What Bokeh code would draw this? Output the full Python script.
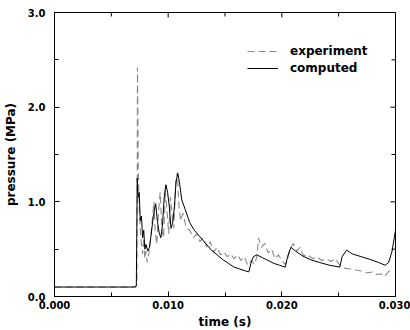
import math
from bokeh.plotting import figure
from bokeh.models import FixedTicker, Range1d, Legend, LegendItem, CustomJSTickFormatter
from bokeh.embed import file_html
from bokeh.resources import INLINE

# time in milliseconds, pressure in MPa
exp_t_ms = [0, 7.15, 7.25, 7.3, 7.38, 7.45, 7.55, 7.65, 7.75, 7.85, 7.95, 8.05, 8.15, 8.3, 8.45,
            8.6, 8.75, 8.85, 9.0, 9.15, 9.3, 9.45, 9.6, 9.75, 9.9, 10.05, 10.2, 10.35, 10.5, 10.65,
            10.8, 10.95, 11.1, 11.3, 11.6, 11.9, 12.2, 12.5, 12.8, 13.1, 13.4, 13.7, 14.0, 14.3,
            14.6, 14.9, 15.2, 15.5, 15.8, 16.1, 16.4, 16.7, 17.0, 17.3, 17.6, 17.8, 17.95, 18.2,
            18.5, 18.8, 19.1, 19.4, 19.7, 20.0, 20.3, 20.5, 20.7, 21.0, 21.3, 21.6, 21.9, 22.3,
            22.7, 23.1, 23.5, 23.9, 24.3, 24.7, 25.1, 25.5, 26.0, 26.5, 27.0, 27.5, 28.0, 28.4,
            28.7, 29.0, 29.3, 29.5]
exp_p = [0.10, 0.10, 0.12, 2.42, 1.30, 0.95, 0.70, 0.55, 0.45, 0.62, 0.40, 0.48, 0.36, 0.45, 0.60,
         0.80, 1.00, 0.70, 0.55, 0.90, 1.10, 0.70, 0.62, 1.12, 0.90, 0.66, 1.05, 0.85, 0.72, 1.18,
         1.31, 0.95, 0.80, 0.88, 0.72, 0.70, 0.62, 0.66, 0.58, 0.62, 0.52, 0.58, 0.47, 0.52,
         0.44, 0.47, 0.42, 0.45, 0.40, 0.44, 0.38, 0.42, 0.33, 0.38, 0.34, 0.42, 0.62, 0.52,
         0.56, 0.46, 0.50, 0.40, 0.44, 0.38, 0.34, 0.38, 0.50, 0.56, 0.48, 0.52, 0.43, 0.44,
         0.40, 0.42, 0.38, 0.40, 0.37, 0.40, 0.33, 0.30, 0.29, 0.28, 0.27, 0.25, 0.26, 0.23,
         0.24, 0.21, 0.25, 0.28]

comp_t_ms = [0, 7.1, 7.2, 7.28, 7.35, 7.45, 7.55, 7.65, 7.75, 7.85, 7.95, 8.05, 8.2, 8.35, 8.5,
             8.7, 8.9, 9.05, 9.2, 9.35, 9.5, 9.65, 9.8, 9.95, 10.1, 10.25, 10.4, 10.55, 10.7,
             10.85, 11.0, 11.2, 11.5, 11.9, 12.3, 12.8, 13.3, 13.8, 14.3, 14.8, 15.3, 15.8, 16.3,
             16.8, 17.1, 17.3, 17.5, 17.8, 18.3, 18.8, 19.3, 19.8, 20.3, 20.5, 20.8, 21.2, 21.8,
             22.5, 23.3, 24.2, 25.1, 25.3, 25.7, 26.2, 27.0, 27.8, 28.5, 29.1, 29.4, 29.7, 30.0]
comp_p = [0.10, 0.10, 0.12, 1.25, 1.05, 1.10, 0.80, 0.85, 0.62, 0.70, 0.50, 0.55, 0.48, 0.52, 0.65,
          0.85, 0.98, 0.80, 0.68, 0.62, 0.75, 1.05, 1.18, 1.10, 0.95, 0.72, 0.78, 0.95, 1.22,
          1.30, 1.20, 1.02, 0.92, 0.78, 0.70, 0.63, 0.56, 0.49, 0.44, 0.39, 0.35, 0.31, 0.29,
          0.27, 0.26, 0.36, 0.42, 0.44, 0.41, 0.38, 0.35, 0.33, 0.31, 0.42, 0.52, 0.48, 0.43,
          0.39, 0.36, 0.33, 0.31, 0.42, 0.49, 0.45, 0.42, 0.39, 0.36, 0.33, 0.36, 0.48, 0.70]

x_ticks = [0.0, 0.01, 0.02, 0.03]
x_minor = [0.005, 0.015, 0.025]
y_ticks = [0.0, 1.0, 2.0, 3.0]
y_minor = [0.5, 1.5, 2.5]
series_labels = ["experiment", "computed"]

exp_t = [v / 1000.0 for v in exp_t_ms]
comp_t = [v / 1000.0 for v in comp_t_ms]

FONT = "DejaVu Sans"
X_MAX = x_ticks[-1]
Y_MAX = y_ticks[-1]

p = figure(frame_width=341, frame_height=284, output_backend="svg", toolbar_location=None,
           x_range=Range1d(x_ticks[0], X_MAX), y_range=Range1d(y_ticks[0], Y_MAX),
           min_border_left=54, min_border_right=15, min_border_top=12, min_border_bottom=34,
           x_axis_label="time (s)", y_axis_label="pressure (MPa)")
p.background_fill_color = "white"
p.border_fill_color = "white"
p.grid.visible = False
p.outline_line_color = "black"
p.outline_line_width = 1

xfmt = CustomJSTickFormatter(code="return tick.toFixed(3);")
yfmt = CustomJSTickFormatter(code="return tick.toFixed(1);")

def style_axis(ax, ticks, minor):
    ax.ticker = FixedTicker(ticks=ticks, minor_ticks=minor)
    ax.major_tick_in = 5
    ax.major_tick_out = 0
    ax.minor_tick_in = 4
    ax.minor_tick_out = 0
    ax.axis_line_color = "black"
    ax.major_tick_line_color = "black"
    ax.minor_tick_line_color = "black"
    ax.major_label_text_font = FONT
    ax.major_label_text_font_style = "bold"
    ax.major_label_text_font_size = "10px"
    ax.major_label_text_color = "black"
    ax.axis_label_text_font = FONT
    ax.axis_label_text_font_style = "bold"
    ax.axis_label_text_font_size = "12px"
    ax.axis_label_text_color = "black"

xa = p.xaxis[0]
ya = p.yaxis[0]
style_axis(xa, x_ticks, x_minor)
style_axis(ya, y_ticks, y_minor)
xa.formatter = xfmt
ya.formatter = yfmt
xa.major_label_standoff = 4
xa.axis_label_standoff = 3
ya.major_label_standoff = 9
ya.axis_label_standoff = 7

# mirrored inward ticks on the top and right frame edges
p.ray(x=x_ticks, y=[Y_MAX] * len(x_ticks), length=5, length_units="screen",
      angle=-math.pi / 2, line_color="black", line_width=1)
p.ray(x=x_minor, y=[Y_MAX] * len(x_minor), length=4, length_units="screen",
      angle=-math.pi / 2, line_color="black", line_width=1)
p.ray(x=[X_MAX] * len(y_ticks), y=y_ticks, length=5, length_units="screen",
      angle=math.pi, line_color="black", line_width=1)
p.ray(x=[X_MAX] * len(y_minor), y=y_minor, length=4, length_units="screen",
      angle=math.pi, line_color="black", line_width=1)

r_exp = p.line(exp_t, exp_p, line_color="#8a8a8a", line_width=1.1, line_dash="7 4")
r_comp = p.line(comp_t, comp_p, line_color="black", line_width=1.0)

legend = Legend(items=[LegendItem(label=series_labels[0], renderers=[r_exp]),
                       LegendItem(label=series_labels[1], renderers=[r_comp])],
                location=(193, 221))
legend.background_fill_alpha = 0
legend.border_line_alpha = 0
legend.padding = 0
legend.margin = 0
legend.spacing = 3
legend.glyph_width = 31
legend.glyph_height = 14
legend.label_height = 14
legend.label_standoff = 12
legend.label_text_font = FONT
legend.label_text_font_style = "bold"
legend.label_text_font_size = "12px"
legend.label_text_color = "black"
p.add_layout(legend, "center")

open("out.html", "w").write(file_html(p, INLINE))
